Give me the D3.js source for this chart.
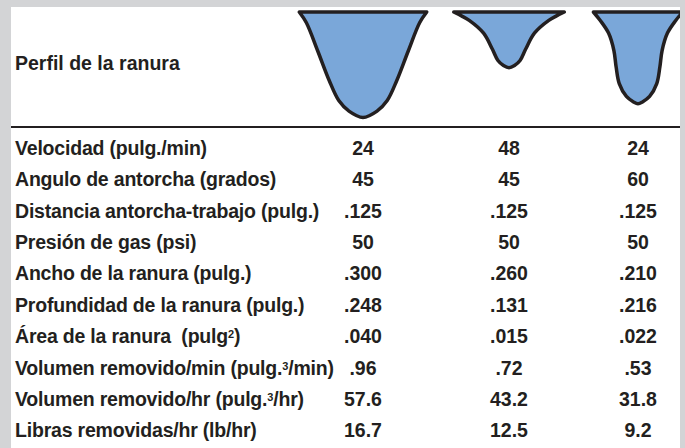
<!DOCTYPE html>
<html lang="es">
<head>
<meta charset="utf-8">
<script src="https://d3js.org/d3.v7.min.js"></script>
<style>
  body { margin: 0; background: #d3d4d6; }
  text { font-family: "Liberation Sans", Arial, sans-serif; font-weight: bold; fill: #231f20; white-space: pre; }
</style>
</head>
<body>
<svg width="685" height="448"></svg>
<script>
// Columnas: tres perfiles de ranura
var grooves = ["A", "B", "C"];

// Etiquetas de fila (sup = superíndice)
var rowLabels = [
  [{t: "Velocidad (pulg./min)"}],
  [{t: "Angulo de antorcha (grados)"}],
  [{t: "Distancia antorcha-trabajo (pulg.)"}],
  [{t: "Presión de gas (psi)"}],
  [{t: "Ancho de la ranura (pulg.)"}],
  [{t: "Profundidad de la ranura (pulg.)"}],
  [{t: "Área de la ranura  (pulg"}, {t: "2", sup: true}, {t: ")"}],
  [{t: "Volumen removido/min (pulg."}, {t: "3", sup: true}, {t: "/min)"}],
  [{t: "Volumen removido/hr (pulg."}, {t: "3", sup: true}, {t: "/hr)"}],
  [{t: "Libras removidas/hr (lb/hr)"}]
];

// valores por ranura (texto tal cual aparece)
var valuesA = ["24", "45", ".125", "50", ".300", ".248", ".040", ".96", "57.6", "16.7"];
var valuesB = ["48", "45", ".125", "50", ".260", ".131", ".015", ".72", "43.2", "12.5"];
var valuesC = ["24", "60", ".125", "50", ".210", ".216", ".022", ".53", "31.8", "9.2"];

// ancho y profundidad en pulgadas (dibujan el perfil)
var grooveWidth = [0.300, 0.260, 0.210];
var grooveDepth = [0.248, 0.131, 0.216];

// forma de cada perfil: [fracción de profundidad, fracción de medio ancho]
var profileA = [[0, 1], [0.1, 0.89], [0.37, 0.71], [0.65, 0.53], [0.84, 0.38], [0.94, 0.22], [1, 0]];
var profileB = [[0, 1], [0.07, 0.86], [0.15, 0.72], [0.38, 0.46], [0.67, 0.3], [0.87, 0.2], [0.96, 0.1], [1, 0]];
var profileC = [[0, 1], [0.09, 0.85], [0.23, 0.66], [0.42, 0.54], [0.6, 0.49], [0.78, 0.42], [0.92, 0.26], [0.98, 0.1], [1, 0]];

var values = [valuesA, valuesB, valuesC];
var profiles = [profileA, profileB, profileC];

var svg = d3.select("svg");
var panel = {x0: 11, x1: 680, y0: 7, y1: 448};

svg.append("defs").append("clipPath").attr("id", "clip")
  .append("rect")
    .attr("x", panel.x0).attr("y", panel.y0)
    .attr("width", panel.x1 - panel.x0).attr("height", panel.y1 - panel.y0);

svg.append("rect")
    .attr("x", panel.x0).attr("y", panel.y0)
    .attr("width", panel.x1 - panel.x0).attr("height", panel.y1 - panel.y0)
    .attr("fill", "#fff");

var x = d3.scaleOrdinal().domain(grooves).range([363, 509, 638]);
var y = d3.scaleBand().domain(d3.range(rowLabels.length)).range([132, 446]);

// escala en pulgadas para los perfiles
var inch = d3.scaleLinear().domain([0, 1]).range([0, 425]);
var top0 = 12;

var line = d3.line().curve(d3.curveCatmullRom.alpha(0.5));

var shapes = svg.append("g").attr("clip-path", "url(#clip)");
grooves.forEach(function(g, i) {
  var cx = x(g), half = inch(grooveWidth[i]) / 2, depth = inch(grooveDepth[i]);
  var prof = profiles[i];
  var left = prof.map(function(p) { return [cx - p[1] * half, top0 + p[0] * depth]; });
  var right = prof.slice(0, -1).reverse().map(function(p) { return [cx + p[1] * half, top0 + p[0] * depth]; });
  shapes.append("path")
      .attr("d", line(left.concat(right)) + "Z")
      .attr("fill", "#7aa7d9")
      .attr("stroke", "#231f20")
      .attr("stroke-width", 3.5)
      .attr("stroke-linejoin", "round");
});

svg.append("text")
    .attr("x", 15).attr("y", 70)
    .style("font-size", "19.5px")
    .text("Perfil de la ranura");

svg.append("line")
    .attr("x1", panel.x0).attr("x2", panel.x1)
    .attr("y1", 127).attr("y2", 127)
    .attr("stroke", "#231f20").attr("stroke-width", 2);

var rows = svg.selectAll("g.row")
  .data(rowLabels)
  .enter().append("g")
    .attr("class", "row")
    .attr("transform", function(d, i) { return "translate(0," + (y(i) + y.bandwidth() / 2 + 7) + ")"; });

rows.append("text")
    .attr("x", 15)
    .style("font-size", "19.5px")
    .style("letter-spacing", "-0.2px")
  .selectAll("tspan")
  .data(function(d) { return d; })
  .enter().append("tspan")
    .attr("baseline-shift", function(d) { return d.sup ? "45%" : null; })
    .style("font-size", function(d) { return d.sup ? "11px" : null; })
    .text(function(d) { return d.t; });

grooves.forEach(function(g, j) {
  rows.append("text")
      .attr("x", x(g))
      .attr("text-anchor", "middle")
      .style("font-size", "19.5px")
      .text(function(d, i) { return values[j][i]; });
});
</script>
</body>
</html>
